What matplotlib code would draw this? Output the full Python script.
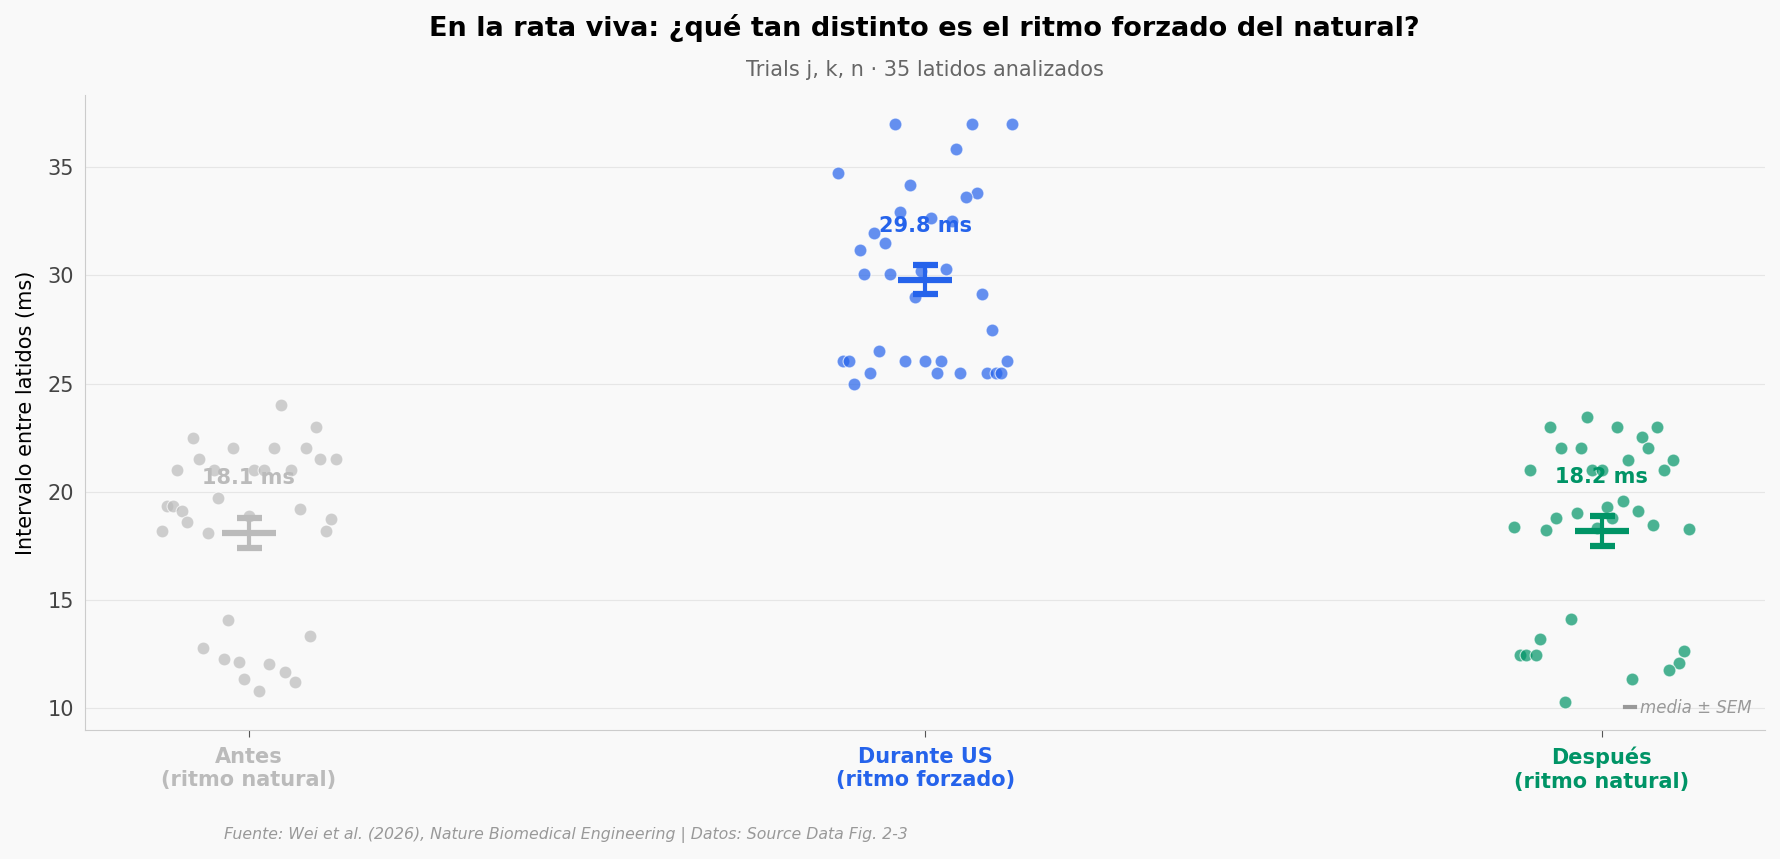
import numpy as np
import matplotlib
matplotlib.use("Agg")
import matplotlib.pyplot as plt
from matplotlib.lines import Line2D

# datos (ms) y desplazamiento horizontal de cada punto
antes = [24.0, 22.5, 23.0, 21.5, 22.0, 22.0, 22.0, 21.0, 21.0, 21.0, 21.0, 21.0,
         21.5, 21.5, 19.7, 19.33, 19.33, 19.1, 18.6, 18.9, 19.2, 18.2, 18.1, 18.2,
         18.75, 14.1, 13.35, 12.8, 12.3, 12.15, 12.05, 11.7, 11.35, 11.2, 10.8]
antes_dx = [0.047, -0.082, 0.099, -0.074, -0.023, 0.037, 0.084, -0.106, -0.052, 0.008,
            0.023, 0.062, 0.106, 0.129, -0.045, -0.121, -0.112, -0.099, -0.091, 0.0,
            0.076, -0.128, -0.060, 0.114, 0.122, -0.030, 0.091, -0.067, -0.037, -0.015,
            0.030, 0.054, -0.007, 0.069, 0.015]

durante = [37.0, 37.0, 37.0, 35.84, 34.7, 34.16, 33.8, 33.6, 32.9, 32.64, 32.48, 31.96,
           31.49, 31.17, 30.28, 30.07, 30.07, 30.18, 28.97, 29.13, 27.45, 26.5, 26.04,
           26.04, 26.04, 26.04, 26.04, 26.04, 25.5, 25.5, 25.5, 25.5, 25.5, 25.5, 24.99]
durante_dx = [-0.044, 0.069, 0.128, 0.045, -0.129, -0.022, 0.076, 0.060, -0.037, 0.008,
              0.039, -0.076, -0.059, -0.097, 0.030, -0.091, -0.052, -0.007, -0.015, 0.084,
              0.099, -0.069, -0.122, -0.112, -0.030, 0.0, 0.023, 0.121, -0.082, 0.017,
              0.052, 0.092, 0.104, 0.112, -0.106]

despues = [23.47, 23.0, 23.0, 23.0, 22.53, 22.0, 22.0, 22.0, 21.48, 21.48, 21.0, 21.0,
           21.0, 21.0, 19.59, 19.28, 19.0, 19.1, 18.8, 18.8, 18.39, 18.49, 18.23, 18.28,
           18.33, 14.14, 13.2, 12.67, 12.46, 12.46, 12.46, 12.1, 11.78, 11.36, 10.31]
despues_dx = [-0.022, -0.076, 0.023, 0.082, 0.060, -0.060, -0.030, 0.069, 0.039, 0.106,
              -0.106, -0.015, 0.0, 0.092, 0.032, 0.008, -0.037, 0.054, -0.067, 0.015,
              -0.129, 0.076, -0.082, 0.129, -0.007, -0.045, -0.091, 0.121, -0.121, -0.112,
              -0.097, 0.114, 0.099, 0.045, -0.054]

etiquetas = ["Antes\n(ritmo natural)", "Durante US\n(ritmo forzado)", "Después\n(ritmo natural)"]
colores = ["#BBBBBB", "#2563EB", "#009466"]

grupos = [antes, durante, despues]
desplaz = [antes_dx, durante_dx, despues_dx]

fondo = "#F9F9F9"
fig = plt.figure(figsize=(17.8, 8.59), dpi=100, facecolor=fondo)
ax = fig.add_axes([0.0478, 0.150, 0.944, 0.739], facecolor=fondo)

for i, (vals, dx, col) in enumerate(zip(grupos, desplaz, colores)):
    vals = np.array(vals)
    x = i + np.array(dx)
    ax.scatter(x, vals, s=85, color=col, alpha=0.7, edgecolors="white",
               linewidths=0.8, zorder=2)
    media = vals.mean()
    sem = vals.std(ddof=1) / np.sqrt(len(vals))
    ax.plot([i - 0.04, i + 0.04], [media, media], color=col, lw=4.5,
            solid_capstyle="butt", zorder=4)
    ax.errorbar(i, media, yerr=sem, color=col, capsize=9, capthick=4.5,
                elinewidth=3, fmt="none", zorder=4)
    ax.text(i, media + 2.5, f"{media:.1f} ms", ha="center", va="center",
            fontsize=15, fontweight="bold", color=col, zorder=5)

ax.set_xlim(-0.242, 2.242)
ax.set_ylim(9.0, 38.3)
ax.set_xticks(range(3))
ax.set_xticklabels(etiquetas, fontsize=15, fontweight="bold")
for lab, col in zip(ax.get_xticklabels(), colores):
    lab.set_color(col)
ax.set_yticks([10, 15, 20, 25, 30, 35])
ax.tick_params(axis="y", length=0, labelsize=15, labelcolor="#444444", pad=8)
ax.tick_params(axis="x", length=5, color="#555555", pad=7)
ax.grid(axis="y", color="#E6E6E6", linewidth=0.8, zorder=0)
ax.set_axisbelow(True)
for lado in ["top", "right"]:
    ax.spines[lado].set_visible(False)
for lado in ["left", "bottom"]:
    ax.spines[lado].set_color("#CCCCCC")
ax.set_ylabel("Intervalo entre latidos (ms)", fontsize=15, labelpad=8)

nota = Line2D([], [], color="#999999", lw=3)
leg = ax.legend([nota], ["media ± SEM"], loc="lower right", frameon=False,
                handlelength=0.6, handletextpad=0.3, borderaxespad=0.4,
                prop={"style": "italic", "size": 12})
for t in leg.get_texts():
    t.set_color("#999999")

fig.text(0.5195, 0.967, "En la rata viva: ¿qué tan distinto es el ritmo forzado del natural?",
         ha="center", va="center", fontsize=19.5, fontweight="bold")
fig.text(0.5195, 0.919, "Trials j, k, n · 35 latidos analizados",
         ha="center", va="center", fontsize=15, color="#666666")
fig.text(0.126, 0.028,
         "Fuente: Wei et al. (2026), Nature Biomedical Engineering | Datos: Source Data Fig. 2-3",
         ha="left", va="center", fontsize=11.3, style="italic", color="#999999")

fig.savefig("out.png", dpi=100, facecolor=fondo)
